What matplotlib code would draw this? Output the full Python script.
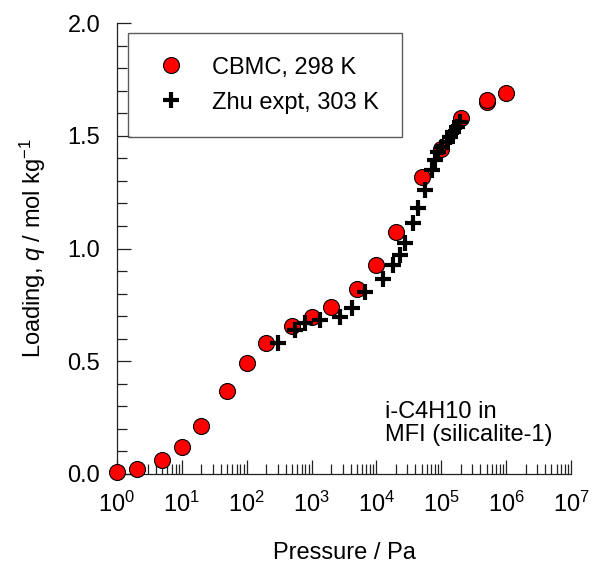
import matplotlib
matplotlib.use("Agg")
import matplotlib.pyplot as plt
from matplotlib.ticker import MultipleLocator, LogLocator, FormatStrFormatter, NullFormatter

plt.rcParams['font.family'] = ['Liberation Sans', 'DejaVu Sans']
plt.rcParams['mathtext.fontset'] = 'custom'
plt.rcParams['mathtext.rm'] = 'Liberation Sans'
plt.rcParams['mathtext.it'] = 'Liberation Sans:italic'

# CBMC simulation, 298 K
cbmc_p = [1, 2, 5, 10, 20, 50, 100, 200, 500, 1000, 2000, 5000,
          1e4, 2e4, 5e4, 1e5, 2e5, 5e5, 5e5, 1e6]
cbmc_q = [0.008, 0.022, 0.062, 0.121, 0.214, 0.369, 0.491, 0.582, 0.658,
          0.698, 0.742, 0.820, 0.927, 1.075, 1.316, 1.440, 1.577,
          1.650, 1.660, 1.688]

# Zhu experimental data, 303 K
expt_p = [307, 555, 792, 1350, 2743, 4150, 6650, 12760, 18200, 23080,
          27560, 37000, 44200, 56100, 71100, 80000, 90000, 101400,
          121000, 136000, 153000, 172700, 194000]
expt_q = [0.580, 0.639, 0.668, 0.683, 0.697, 0.734, 0.806, 0.865, 0.927,
          0.971, 1.023, 1.112, 1.178, 1.259, 1.348, 1.392, 1.429, 1.451,
          1.473, 1.496, 1.518, 1.540, 1.563]

FS = 17
W, H = 592, 565

fig = plt.figure(figsize=(W/100, H/100), dpi=100)
ax = fig.add_axes([117/W, 1 - 474/H, (571 - 117)/W, (474 - 23)/H])

ax.plot(cbmc_p, cbmc_q, 'o', ls='none', ms=11.5, mfc='#ff0000', mec='black',
        mew=0.8, label='CBMC, 298 K', zorder=3, clip_on=False)
ax.plot(expt_p, expt_q, '+', ls='none', ms=11, mec='black', mew=3,
        label='Zhu expt, 303 K', zorder=4, clip_on=False)

ax.set_xscale('log')
ax.set_xlim(1, 1e7)
ax.set_ylim(0, 2.0)

ax.yaxis.set_major_locator(MultipleLocator(0.5))
ax.yaxis.set_minor_locator(MultipleLocator(0.1))
ax.yaxis.set_major_formatter(FormatStrFormatter('%.1f'))
ax.xaxis.set_major_locator(LogLocator(base=10, numticks=20))
ax.xaxis.set_minor_locator(LogLocator(base=10, subs=range(2, 10), numticks=20))
ax.xaxis.set_minor_formatter(NullFormatter())

for side in ('top', 'right'):
    ax.spines[side].set_visible(False)
for side in ('left', 'bottom'):
    ax.spines[side].set_linewidth(0.9)
    ax.spines[side].set_color('#222222')

ax.tick_params(axis='both', which='major', direction='in', length=10,
               width=0.9, color='#222222', labelsize=FS)
ax.tick_params(axis='both', which='minor', direction='in', length=7,
               width=0.9, color='#222222')
ax.tick_params(axis='x', which='major', pad=13)
ax.tick_params(axis='y', which='major', pad=12)

ax.set_xlabel('Pressure / Pa', fontsize=FS, labelpad=18)
ax.set_ylabel(r'Loading, $q$ / mol kg$^{-1}$', fontsize=FS, labelpad=14)

fig.text(385/W, 1 - 441/H, 'i-C4H10 in\nMFI (silicalite-1)',
         fontsize=FS, ha='left', va='baseline', linespacing=1.05)

leg = ax.legend(loc='upper left', bbox_to_anchor=(128/W, 1 - 33/H),
                bbox_transform=fig.transFigure, borderaxespad=0,
                fontsize=FS, frameon=True, fancybox=False, borderpad=1.0,
                handlelength=1.6, handletextpad=0.95, labelspacing=0.55,
                numpoints=1)
leg.get_frame().set_edgecolor('#333333')
leg.get_frame().set_linewidth(1.0)

fig.savefig('out.png', dpi=100)
